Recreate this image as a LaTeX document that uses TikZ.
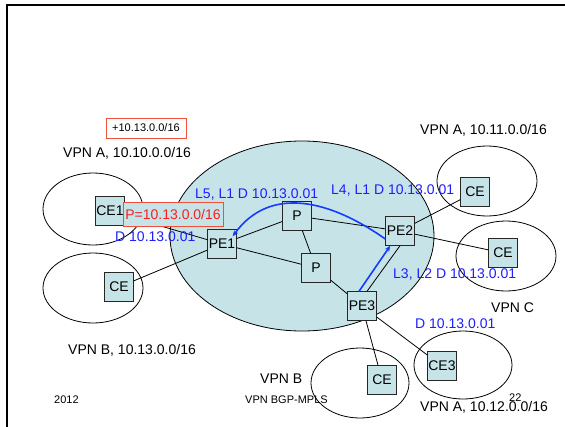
\documentclass[tikz,border=0pt]{standalone}
\usepackage{fontspec}
\setmainfont{Liberation Sans}
\usetikzlibrary{arrows.meta}
\definecolor{cloud}{RGB}{198,228,232}
\definecolor{lblblue}{RGB}{30,30,255}
\definecolor{arrblue}{RGB}{20,60,255}
\definecolor{boxred}{RGB}{238,80,60}
\definecolor{txtred}{RGB}{250,30,30}
\tikzset{
  routerbox/.style={draw=black!85, fill=cloud, line width=0.9pt, minimum width=28.5pt, minimum height=28.5pt, inner sep=0pt, font=\fontsize{14}{16}\selectfont},
  link/.style={draw=black, line width=0.8pt},
  site/.style={draw=black, line width=0.8pt},
  lbl/.style={anchor=west, inner sep=0pt, font=\fontsize{14}{16}\selectfont},
  smalllbl/.style={anchor=west, inner sep=0pt, font=\fontsize{11}{13}\selectfont},
  bluelbl/.style={lbl, text=lblblue},
  route/.style={draw=arrblue, line width=1.6pt, -{Stealth[length=6pt,width=5pt]}},
}
\begin{document}
\begin{tikzpicture}[x=1pt,y=-1pt]
\useasboundingbox (0,0) rectangle (565,426);
\fill[white] (0,0) rectangle (565,426);
% frame
\draw[line width=2pt] (567,5) -- (7,5) -- (7,428);
% provider cloud
\draw[site, fill=cloud] (302,236) ellipse [x radius=132pt, y radius=95pt];
% customer sites
\draw[site] (93,209) ellipse [x radius=50pt, y radius=36pt];
\draw[site] (93,288) ellipse [x radius=50pt, y radius=35pt];
\draw[site] (487,181) ellipse [x radius=50pt, y radius=35pt];
\draw[site] (506,256) ellipse [x radius=50pt, y radius=35pt];
\draw[site] (463,365) ellipse [x radius=49pt, y radius=34pt];
\draw[site] (360,383) ellipse [x radius=49pt, y radius=35pt];
% routers
\node[routerbox] (CE1) at (110,211) {CE1};
\node[routerbox] (CEB) at (119,287) {CE};
\node[routerbox] (PE1) at (222,244) {PE1};
\node[routerbox] (P1) at (297,216) {P};
\node[routerbox] (P2) at (316,268) {P};
\node[routerbox] (PE2) at (400,231) {PE2};
\node[routerbox] (PE3) at (362,306) {PE3};
\node[routerbox] (CEA2) at (475,192) {CE};
\node[routerbox] (CEC) at (503,253) {CE};
\node[routerbox] (CE3) at (442,366) {CE3};
\node[routerbox] (CEB2) at (382,380) {CE};
% links
\draw[link] (CE1) -- (PE1);
\draw[link] (CEB) -- (PE1);
\draw[link] (PE1) -- (P1);
\draw[link] (PE1) -- (P2);
\draw[link] (P1) -- (P2);
\draw[link] (P1) -- (PE2);
\draw[link] (P2) -- (PE3);
\draw[link] (PE2.south) -- ([xshift=5pt]PE3.north);
\draw[link] (PE2) -- (CEA2);
\draw[link] (PE2) -- (CEC);
\draw[link] (PE3) -- (CE3);
\draw[link] (PE3) -- (CEB2);
% prefix boxes
\node[draw=boxred, fill=cloud, line width=0.9pt, minimum width=100pt, minimum height=24pt, inner sep=0pt, text=txtred, font=\fontsize{14}{16}\selectfont] (pfx) at (173,214) {P=10.13.0.0/16};
\node[draw=boxred, line width=0.9pt, minimum width=80pt, minimum height=20pt, inner sep=0pt, font=\fontsize{11}{13}\selectfont] (add) at (146,128) {+10.13.0.0/16};
% label routes
\draw[route] ([xshift=-3pt]PE3.north) -- ([xshift=5pt]PE2.south west);
\draw[route] ([yshift=-8pt]PE2.west) .. controls (330,200) and (270,185) .. ([xshift=-4pt,yshift=-7pt]PE1.north east);
% labels
\node[lbl] (vpnA1) at (63,153) {VPN A, 10.10.0.0/16};
\node[lbl] (vpnA2) at (420,130) {VPN A, 10.11.0.0/16};
\node[lbl] (vpnB1) at (68,350) {VPN B, 10.13.0.0/16};
\node[lbl] (vpnB2) at (260,379) {VPN B};
\node[lbl] (vpnC) at (491,308) {VPN C};
\node[lbl] (vpnA3) at (420,407) {VPN A, 10.12.0.0/16};
\node[bluelbl] (d1) at (115,237) {D 10.13.0.01};
\node[bluelbl] (l5) at (195,195) {L5, L1 D 10.13.0.01};
\node[bluelbl] (l4) at (331,191) {L4, L1 D 10.13.0.01};
\node[bluelbl] (l3) at (393,275) {L3, L2 D 10.13.0.01};
\node[bluelbl] (d3) at (415,324) {D 10.13.0.01};
\node[smalllbl] (yr) at (54,400) {2012};
\node[smalllbl] (ttl) at (245,400) {VPN BGP-MPLS};
\node[smalllbl] (pg) at (509,398) {22};
\end{tikzpicture}
\end{document}
